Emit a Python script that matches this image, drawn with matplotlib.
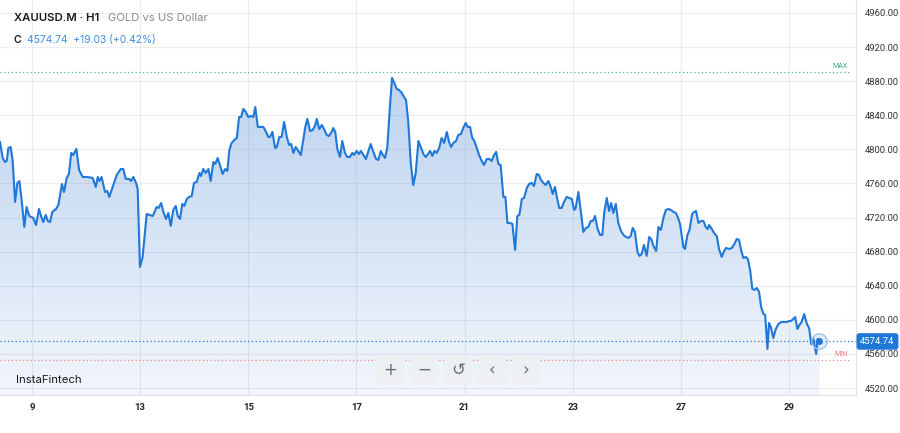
import numpy as np
import matplotlib
matplotlib.use('Agg')
import matplotlib.pyplot as plt
import matplotlib.transforms as mtransforms
from matplotlib.colors import LinearSegmentedColormap
from matplotlib.patches import Polygon, FancyBboxPatch

# hourly closes, time in hours since the "9" tick (trading hours only)
hours = [
    -14.2, -13.0, -12.0, -11.2, -10.5, -9.5, -8.6, -7.5, -6.5, -5.6, -4.6, -3.4, -2.4, -1.2,
    0.6, 1.8, 3.1, 4.0, 5.0, 6.1, 7.0, 8.0, 9.0, 10.7, 11.7, 13.3, 14.2, 15.4, 16.4, 17.4,
    18.3, 19.7, 20.9, 22.5, 24.5, 26.9, 28.3, 29.2, 29.9, 30.9, 32.4, 33.4, 34.3, 36.1,
    37.6, 39.4, 40.5, 41.6, 43.2, 43.9, 45.0, 46.2, 46.9, 47.9, 49.1, 50.9, 52.1, 53.6,
    55.3, 56.2, 57.3, 58.3, 59.5, 60.5, 61.6, 62.7, 63.8, 64.7, 65.7, 66.7, 67.6, 68.7,
    69.8, 70.9, 71.9, 73.1, 74.3, 75.0, 76.0, 77.1, 78.3, 79.3, 80.5, 81.4, 82.4, 83.4,
    84.6, 85.7, 86.7, 87.6, 88.6, 89.8, 90.9, 91.9, 92.8, 93.8, 94.9, 96.0, 97.2, 98.2,
    99.1, 100.2, 101.5, 102.7, 103.9, 104.9, 105.6, 106.7, 107.9, 108.6, 109.8, 110.8,
    111.9, 113.1, 114.1, 115.0, 116.0, 117.0, 118.2, 119.3, 120.4, 121.2, 122.2, 123.4,
    124.6, 125.6, 126.4, 127.5, 128.6, 129.6, 130.8, 131.8, 133.0, 133.7, 134.6, 135.5,
    136.7, 137.7, 138.9, 139.9, 141.1, 142.2, 142.9, 144.1, 145.1, 146.0, 147.1, 148.2,
    149.3, 150.3, 151.5, 152.7, 153.7, 154.8, 155.7, 156.7, 157.7, 158.9, 159.8, 160.8,
    161.9, 162.9, 164.1, 165.1, 166.0, 167.0, 168.1, 169.2, 170.3, 171.5, 172.5, 173.7,
    174.7, 175.5, 176.7, 177.7, 178.6, 179.6, 180.7, 181.8, 182.9, 184.1, 185.1, 186.0,
    187.0, 188.2, 189.2, 190.4, 191.4, 192.5, 193.4, 194.4, 195.4, 196.3, 197.4, 198.4,
    199.6, 200.6, 201.8, 203.0, 204.0, 205.1, 206.0, 207.0, 208.0, 209.2, 210.1, 211.0,
    212.2, 213.2, 214.4, 215.4, 216.3, 217.4, 218.4, 219.6, 220.6, 221.8, 222.8, 224.0,
    225.0, 225.9, 227.0, 228.0, 229.2, 230.2, 231.1, 232.1, 233.2, 234.0, 235.1, 236.1,
    237.3, 238.5, 239.6, 240.6, 241.3, 242.5, 243.6, 244.7, 245.8, 246.9, 248.0, 248.9,
    249.9, 250.9, 252.1, 253.1, 254.0, 255.1, 256.1, 257.0, 258.0, 259.1, 260.2, 261.4,
    262.5, 263.7, 264.7, 265.7, 266.6, 267.6, 268.7, 269.6, 270.6, 271.6, 272.8, 273.9,
    274.8, 275.8, 277.0, 278.0, 279.1, 280.2, 281.3, 282.4, 283.6, 284.7, 285.7, 286.6,
    287.6, 288.4, 289.1, 289.8, 290.9, 291.8, 293.0, 293.8, 294.7, 295.8, 296.9, 298.0,
    299.0, 299.9, 300.5, 301.7, 302.7, 303.9, 304.9, 306.1, 307.2, 308.0, 309.4, 310.6,
    311.7, 312.8, 313.8, 314.7, 315.7, 316.8, 317.7, 318.7, 319.7, 320.6, 321.7, 322.7,
    323.6, 324.6, 325.4, 326.4, 327.1, 327.9, 329.0, 330.1, 331.3, 332.5, 333.8, 335.0,
    336.0, 336.9, 337.9, 338.7, 339.7, 340.6, 341.6, 342.7, 343.9, 344.9, 345.8, 346.8,
    348.0, 348.7, 349.5,
]
close = [
    4808.7, 4789.9, 4785.2, 4786.4, 4801.6, 4802.8, 4787.6, 4738.3, 4760.6, 4762.9, 4740.6, 4709.0, 4732.4, 4721.9,
    4719.5, 4711.3, 4730.1, 4721.9, 4714.8, 4723.1, 4716.0, 4714.8, 4726.6, 4730.1, 4734.8, 4759.4, 4750.0, 4766.5, 4771.1, 4795.8,
    4793.4, 4800.5, 4775.8, 4767.6, 4767.6, 4766.5, 4755.9, 4767.6, 4762.9, 4767.6, 4750.0, 4751.2, 4744.2, 4758.2,
    4770.0, 4777.0, 4777.0, 4765.3, 4765.3, 4762.9, 4767.6, 4760.6, 4753.6, 4662.1, 4673.8, 4724.2, 4723.1, 4721.9,
    4732.4, 4731.3, 4737.1, 4726.6, 4718.4, 4725.4, 4710.2, 4728.9, 4733.6, 4721.9, 4718.4, 4736.0, 4733.6, 4741.8,
    4744.2, 4745.3, 4760.6, 4761.8, 4772.3, 4768.8, 4777.0, 4772.3, 4777.0, 4762.9, 4785.2, 4782.9, 4789.9, 4781.7,
    4771.1, 4777.0, 4774.7, 4799.3, 4807.5, 4811.0, 4813.4, 4838.0, 4838.0, 4847.4, 4843.9, 4838.0, 4839.2, 4838.0,
    4849.7, 4826.3, 4826.3, 4826.3, 4820.4, 4814.5, 4814.5, 4820.4, 4801.6, 4802.8, 4814.5, 4814.5,
    4832.1, 4814.5, 4805.2, 4806.3, 4795.8, 4802.8, 4798.1, 4793.4, 4811.0, 4825.1, 4835.7, 4821.6,
    4822.8, 4827.5, 4835.7, 4823.9, 4828.6, 4823.9, 4816.9, 4815.7, 4820.4, 4825.1, 4820.4, 4800.5,
    4791.1, 4809.9, 4795.8, 4791.1, 4791.1, 4795.8, 4793.4, 4798.1, 4794.6, 4798.1, 4793.4, 4788.7,
    4798.1, 4806.3, 4797.0, 4788.7, 4787.6, 4798.1, 4793.4, 4789.9, 4802.8, 4852.1, 4883.8, 4877.9,
    4870.9, 4869.7, 4866.2, 4861.5, 4857.9, 4832.1, 4784.0, 4758.2, 4772.3, 4809.9, 4802.8, 4794.6,
    4791.1, 4793.4, 4798.1, 4792.3, 4798.1, 4795.8, 4801.6, 4813.4, 4807.5, 4820.4, 4808.7, 4802.8,
    4807.5, 4809.9, 4816.9, 4818.1, 4825.1, 4831.0, 4826.3, 4826.3, 4813.4, 4809.9, 4801.6, 4793.4,
    4786.4, 4781.7, 4788.7, 4788.7, 4786.4, 4793.4, 4797.0, 4782.9, 4781.7, 4744.2, 4744.2, 4713.7,
    4713.7, 4712.5, 4682.0, 4721.9, 4723.1, 4741.8, 4743.0, 4754.7, 4759.4, 4760.6, 4757.1, 4771.1,
    4770.0, 4764.1, 4760.6, 4758.2, 4762.9, 4755.9, 4747.7, 4755.9, 4740.6, 4731.3, 4731.3, 4738.3,
    4744.2, 4743.0, 4741.8, 4728.9, 4731.3, 4750.0, 4726.6, 4703.1, 4707.8, 4709.0, 4716.0, 4716.0,
    4721.9, 4707.8, 4699.6, 4699.6, 4726.6, 4743.0, 4727.7, 4737.1, 4725.4, 4736.0, 4713.7, 4704.3,
    4699.6, 4697.2, 4696.1, 4698.4, 4707.8, 4703.1, 4679.7, 4675.0, 4677.3, 4687.9, 4675.0, 4697.2,
    4694.9, 4686.7, 4680.8, 4709.0, 4705.5, 4719.5, 4728.9, 4730.1, 4728.9, 4726.6, 4725.4, 4720.7,
    4712.5, 4698.4, 4685.5, 4683.2, 4699.6, 4705.5, 4724.2, 4726.6, 4727.7, 4713.7, 4716.0, 4716.0,
    4709.0, 4706.6, 4711.3, 4706.6, 4701.9, 4698.4, 4683.2, 4673.8, 4680.8, 4684.3, 4683.2, 4684.3,
    4689.0, 4694.9, 4693.7, 4682.0, 4672.6, 4673.8, 4671.4, 4658.5, 4636.3, 4635.1, 4637.4, 4632.7,
    4615.1, 4606.9, 4605.8, 4565.9, 4596.4, 4591.7, 4578.8, 4589.3, 4595.2, 4597.5, 4597.5, 4597.5,
    4598.7, 4598.7, 4601.1, 4603.4, 4589.3, 4594.0, 4597.5, 4606.9, 4595.2, 4590.5, 4571.7, 4577.6,
    4560.0, 4577.6, 4574.74,
]

tick_hours = [0, 48, 96, 144, 192, 240, 288, 336]
tick_labels = ['9', '13', '15', '17', '21', '23', '27', '29']
price_ticks = [4520, 4560, 4600, 4640, 4680, 4720, 4760, 4800, 4840, 4880, 4920, 4960]

symbol = 'XAUUSD.M · H1'
description = 'GOLD vs US Dollar'
last_price = 4574.74
change = 19.03
change_pct = 0.42
max_high = 4891.0
min_low = 4553.5

W, H = 900, 433
blue = '#1f78d8'

plt.rcParams['font.family'] = ['Inter', 'DejaVu Sans']

fig = plt.figure(figsize=(W / 100, H / 100), dpi=100)
ax = fig.add_axes([0, 38 / H, 856 / W, 395 / H])
x0, x1 = -14.2, 365.7
y0, y1 = 4511.9, 4975.2

# gradient area under the line
cmap = LinearSegmentedColormap.from_list('area', ['#f2f6fc', '#bcd3f0'])
grad = np.linspace(0, 1, 256).reshape(-1, 1)
im = ax.imshow(grad, cmap=cmap, origin='lower', aspect='auto',
               extent=[hours[0], hours[-1], y0, max(close)], zorder=1)
verts = [(hours[0], y0)] + list(zip(hours, close)) + [(hours[-1], y0)]
area = Polygon(verts, closed=True, facecolor='none', edgecolor='none')
ax.add_patch(area)
im.set_clip_path(area)

ax.plot(hours, close, color=blue, lw=1.5, zorder=4, solid_joinstyle='round')

# reference lines
ax.axhline(last_price, color=blue, ls=(0, (1, 2)), lw=0.9, zorder=3)
ax.axhline(max_high, xmax=0.993, color='#4cbb8a', ls=(0, (1, 2)), lw=0.9, zorder=3)
ax.axhline(min_low, xmax=0.993, color='#f08a8a', ls=(0, (1, 2)), lw=0.9, zorder=3)
bt = mtransforms.blended_transform_factory(ax.transAxes, ax.transData)
ax.text(0.99, max_high + 2, 'MAX', transform=bt, ha='right', va='bottom',
        fontsize=5, color='#3db37d', family=['Roboto'])
ax.text(0.99, min_low + 2, 'MIN', transform=bt, ha='right', va='bottom',
        fontsize=5, color='#ef7f7f', family=['Roboto'])

# last point marker
ax.plot(hours[-1], close[-1], 'o', ms=11, mfc=(0.12, 0.47, 0.85, 0.12),
        mec='#9cc2f0', mew=1.0, zorder=5)
ax.plot(hours[-1], close[-1], 'o', ms=4, color=blue, zorder=6)

ax.set_xlim(x0, x1)
ax.set_ylim(y0, y1)

ax.yaxis.tick_right()
ax.set_yticks(price_ticks, [f'{v:.2f}' for v in price_ticks])
ax.tick_params(axis='y', length=0, pad=6, labelsize=6.8, labelcolor='#333333')
ax.set_xticks(tick_hours, tick_labels)
ax.tick_params(axis='x', length=0, pad=5.5, labelsize=6.8, labelcolor='#222222')
for lab in ax.get_yticklabels():
    lab.set_family(['Roboto'])
for lab in ax.get_xticklabels():
    lab.set_family(['Roboto'])
    lab.set_fontweight('bold')
ax.grid(True, color='#737f94', alpha=0.13, lw=0.8)

for s in ['left', 'top']:
    ax.spines[s].set_visible(False)
for s in ['right', 'bottom']:
    ax.spines[s].set_color('#dde1e6')
    ax.spines[s].set_linewidth(0.8)

# current price tag
ax.text(1.005, last_price, f'{last_price:.2f}', transform=bt, ha='left', va='center',
        color='white', fontsize=6.8, zorder=7, clip_on=False, family=['Roboto'],
        bbox=dict(boxstyle='round,pad=0.4,rounding_size=0.3', fc=blue, ec='none'))

# header
def px(x, y):
    return x / W, 1 - y / H

fig.text(*px(14, 18), symbol, fontsize=8.2, fontweight='semibold', color='#1b1b1b', va='center')
fig.text(*px(108, 18), description, fontsize=8.1, color='#8a8a8a', va='center')
fig.text(*px(14, 40), 'C', fontsize=7.6, fontweight='semibold', color='#1b1b1b', va='center')
fig.text(*px(27, 40), f'{last_price:.2f}  +{change:.2f} (+{change_pct:.2f}%)',
         fontsize=7.4, color='#3d8ee8', va='center')
fig.text(*px(16, 380), 'InstaFintech', fontsize=8.2, color='#1b1b1b', va='center')

# navigation buttons
icons = ['+', '−', '↺', '‹', '›']
for i, ic in enumerate(icons):
    bx = 376 + i * 34
    box = FancyBboxPatch((bx, H - 385), 28, 30, boxstyle='round,pad=0,rounding_size=4',
                         transform=mtransforms.IdentityTransform(),
                         fc='#eef0f3', ec='none', alpha=0.95, zorder=8)
    fig.add_artist(box)
    fig.text(*px(bx + 14, 370), ic, fontsize=12, color='#6b6e73', ha='center', va='center',
             family=['DejaVu Sans'], zorder=9)

fig.savefig('out.png', dpi=100)
